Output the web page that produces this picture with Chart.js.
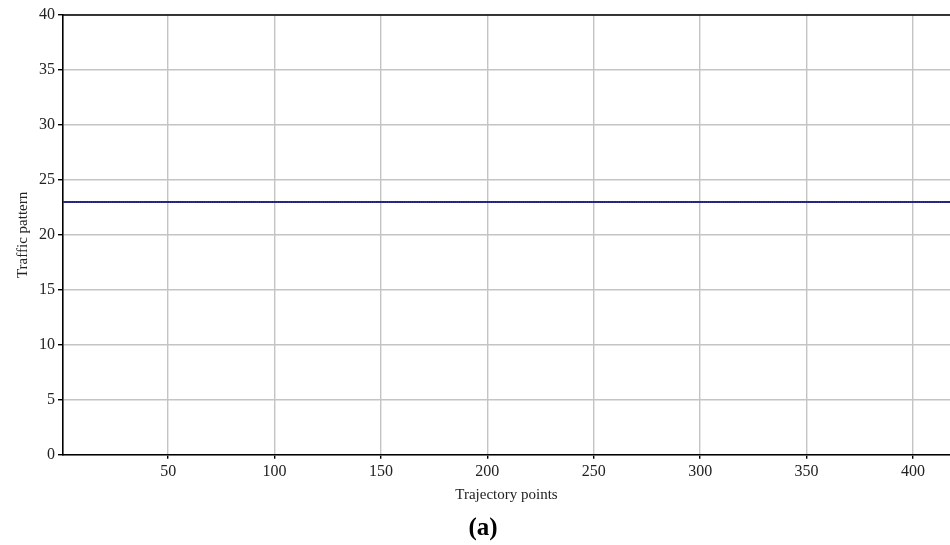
<!DOCTYPE html>
<html>
<head>
<meta charset="utf-8">
<script src="https://cdn.jsdelivr.net/npm/chart.js@4.4.0/dist/chart.umd.min.js"></script>
<style>
html,body{margin:0;padding:0;background:#fff;overflow:hidden;}
#wrap{width:950px;height:545px;position:relative;overflow:hidden;}
canvas{display:block;}
</style>
</head>
<body>
<div id="wrap"><canvas id="c" width="954" height="545"></canvas></div>
<script>
const xTickValues = [50, 100, 150, 200, 250, 300, 350, 400];
const yTickValues = [0, 5, 10, 15, 20, 25, 30, 35, 40];
const trafficPattern = [
23,23,23,23,23,23,23,23,23,23,23,23,23,23,23,23,23,23,23,23,23,23,23,23,23,23,23,23,23,23,
23,23,23,23,23,23,23,23,23,23,23,23,23,23,23,23,23,23,23,23,23,23,23,23,23,23,23,23,23,23,
23,23,23,23,23,23,23,23,23,23,23,23,23,23,23,23,23,23,23,23,23,23,23,23,23,23,23,23,23,23,
23,23,23,23,23,23,23,23,23,23,23,23,23,23,23,23,23,23,23,23,23,23,23,23,23,23,23,23,23,23,
23,23,23,23,23,23,23,23,23,23,23,23,23,23,23,23,23,23,23,23,23,23,23,23,23,23,23,23,23,23,
23,23,23,23,23,23,23,23,23,23,23,23,23,23,23,23,23,23,23,23,23,23,23,23,23,23,23,23,23,23,
23,23,23,23,23,23,23,23,23,23,23,23,23,23,23,23,23,23,23,23,23,23,23,23,23,23,23,23,23,23,
23,23,23,23,23,23,23,23,23,23,23,23,23,23,23,23,23,23,23,23,23,23,23,23,23,23,23,23,23,23,
23,23,23,23,23,23,23,23,23,23,23,23,23,23,23,23,23,23,23,23,23,23,23,23,23,23,23,23,23,23,
23,23,23,23,23,23,23,23,23,23,23,23,23,23,23,23,23,23,23,23,23,23,23,23,23,23,23,23,23,23,
23,23,23,23,23,23,23,23,23,23,23,23,23,23,23,23,23,23,23,23,23,23,23,23,23,23,23,23,23,23,
23,23,23,23,23,23,23,23,23,23,23,23,23,23,23,23,23,23,23,23,23,23,23,23,23,23,23,23,23,23,
23,23,23,23,23,23,23,23,23,23,23,23,23,23,23,23,23,23,23,23,23,23,23,23,23,23,23,23,23,23,
23,23,23,23,23,23,23,23,23,23,23,23,23,23,23,23,23,23,23,23,23,23,23,23,23,23,23,23,23,23
];
const trajectoryPoints = trafficPattern.map((v, i) => i + 1);
const xAxisTitle = 'Trajectory points';
const yAxisTitle = 'Traffic pattern';
const panelLabel = '(a)';

const FONT = "'Liberation Serif', 'Times New Roman', serif";

const frameAndLabel = {
  id: 'frameAndLabel',
  afterDraw(chart) {
    const {ctx, chartArea} = chart;
    ctx.save();
    ctx.strokeStyle = '#000';
    ctx.lineWidth = 1.6;
    ctx.beginPath();
    ctx.moveTo(chartArea.left, chartArea.top);
    ctx.lineTo(chartArea.right, chartArea.top);
    ctx.stroke();
    ctx.fillStyle = '#000';
    ctx.font = "bold 25px " + FONT;
    ctx.textAlign = 'center';
    ctx.textBaseline = 'middle';
    ctx.fillText(panelLabel, 483, 529);
    ctx.restore();
  }
};

new Chart(document.getElementById('c'), {
  type: 'line',
  data: {
    datasets: [{
      data: trajectoryPoints.map((x, i) => ({x: x, y: trafficPattern[i]})),
      borderColor: '#3b3b9c',
      borderWidth: 2,
      pointRadius: 0.9,
      pointBackgroundColor: '#1c1c70',
      pointBorderWidth: 0,
      tension: 0
    }]
  },
  options: {
    responsive: false,
    animation: false,
    clip: 0,
    layout: {padding: {left: 0, right: 0, top: 15, bottom: 37}},
    plugins: {
      legend: {display: false},
      tooltip: {enabled: false},
      title: {display: false}
    },
    scales: {
      x: {
        type: 'linear',
        min: 0.6,
        max: 417.4,
        afterBuildTicks(scale) {
          scale.ticks = xTickValues.map(v => ({value: v}));
        },
        grid: {color: '#c4c4c4', lineWidth: 1.4, tickColor: '#000', tickLength: 4, drawTicks: true},
        border: {color: '#000', width: 1.6},
        ticks: {color: '#222', font: {family: FONT, size: 16}, padding: 3, maxRotation: 0},
        title: {display: true, text: xAxisTitle, color: '#222', font: {family: FONT, size: 15}, padding: {top: 2, bottom: 4}}
      },
      y: {
        type: 'linear',
        min: 0,
        max: 40,
        afterBuildTicks(scale) {
          scale.ticks = yTickValues.map(v => ({value: v}));
        },
        afterFit(scale) { scale.width = 63; },
        grid: {color: '#c4c4c4', lineWidth: 1.4, tickColor: '#000', tickLength: 5},
        border: {color: '#000', width: 1.6},
        ticks: {color: '#222', font: {family: FONT, size: 16}, padding: 3},
        title: {display: true, text: yAxisTitle, color: '#222', font: {family: FONT, size: 15}, padding: {top: 14, bottom: 0}}
      }
    }
  },
  plugins: [frameAndLabel]
});
</script>
</body>
</html>
